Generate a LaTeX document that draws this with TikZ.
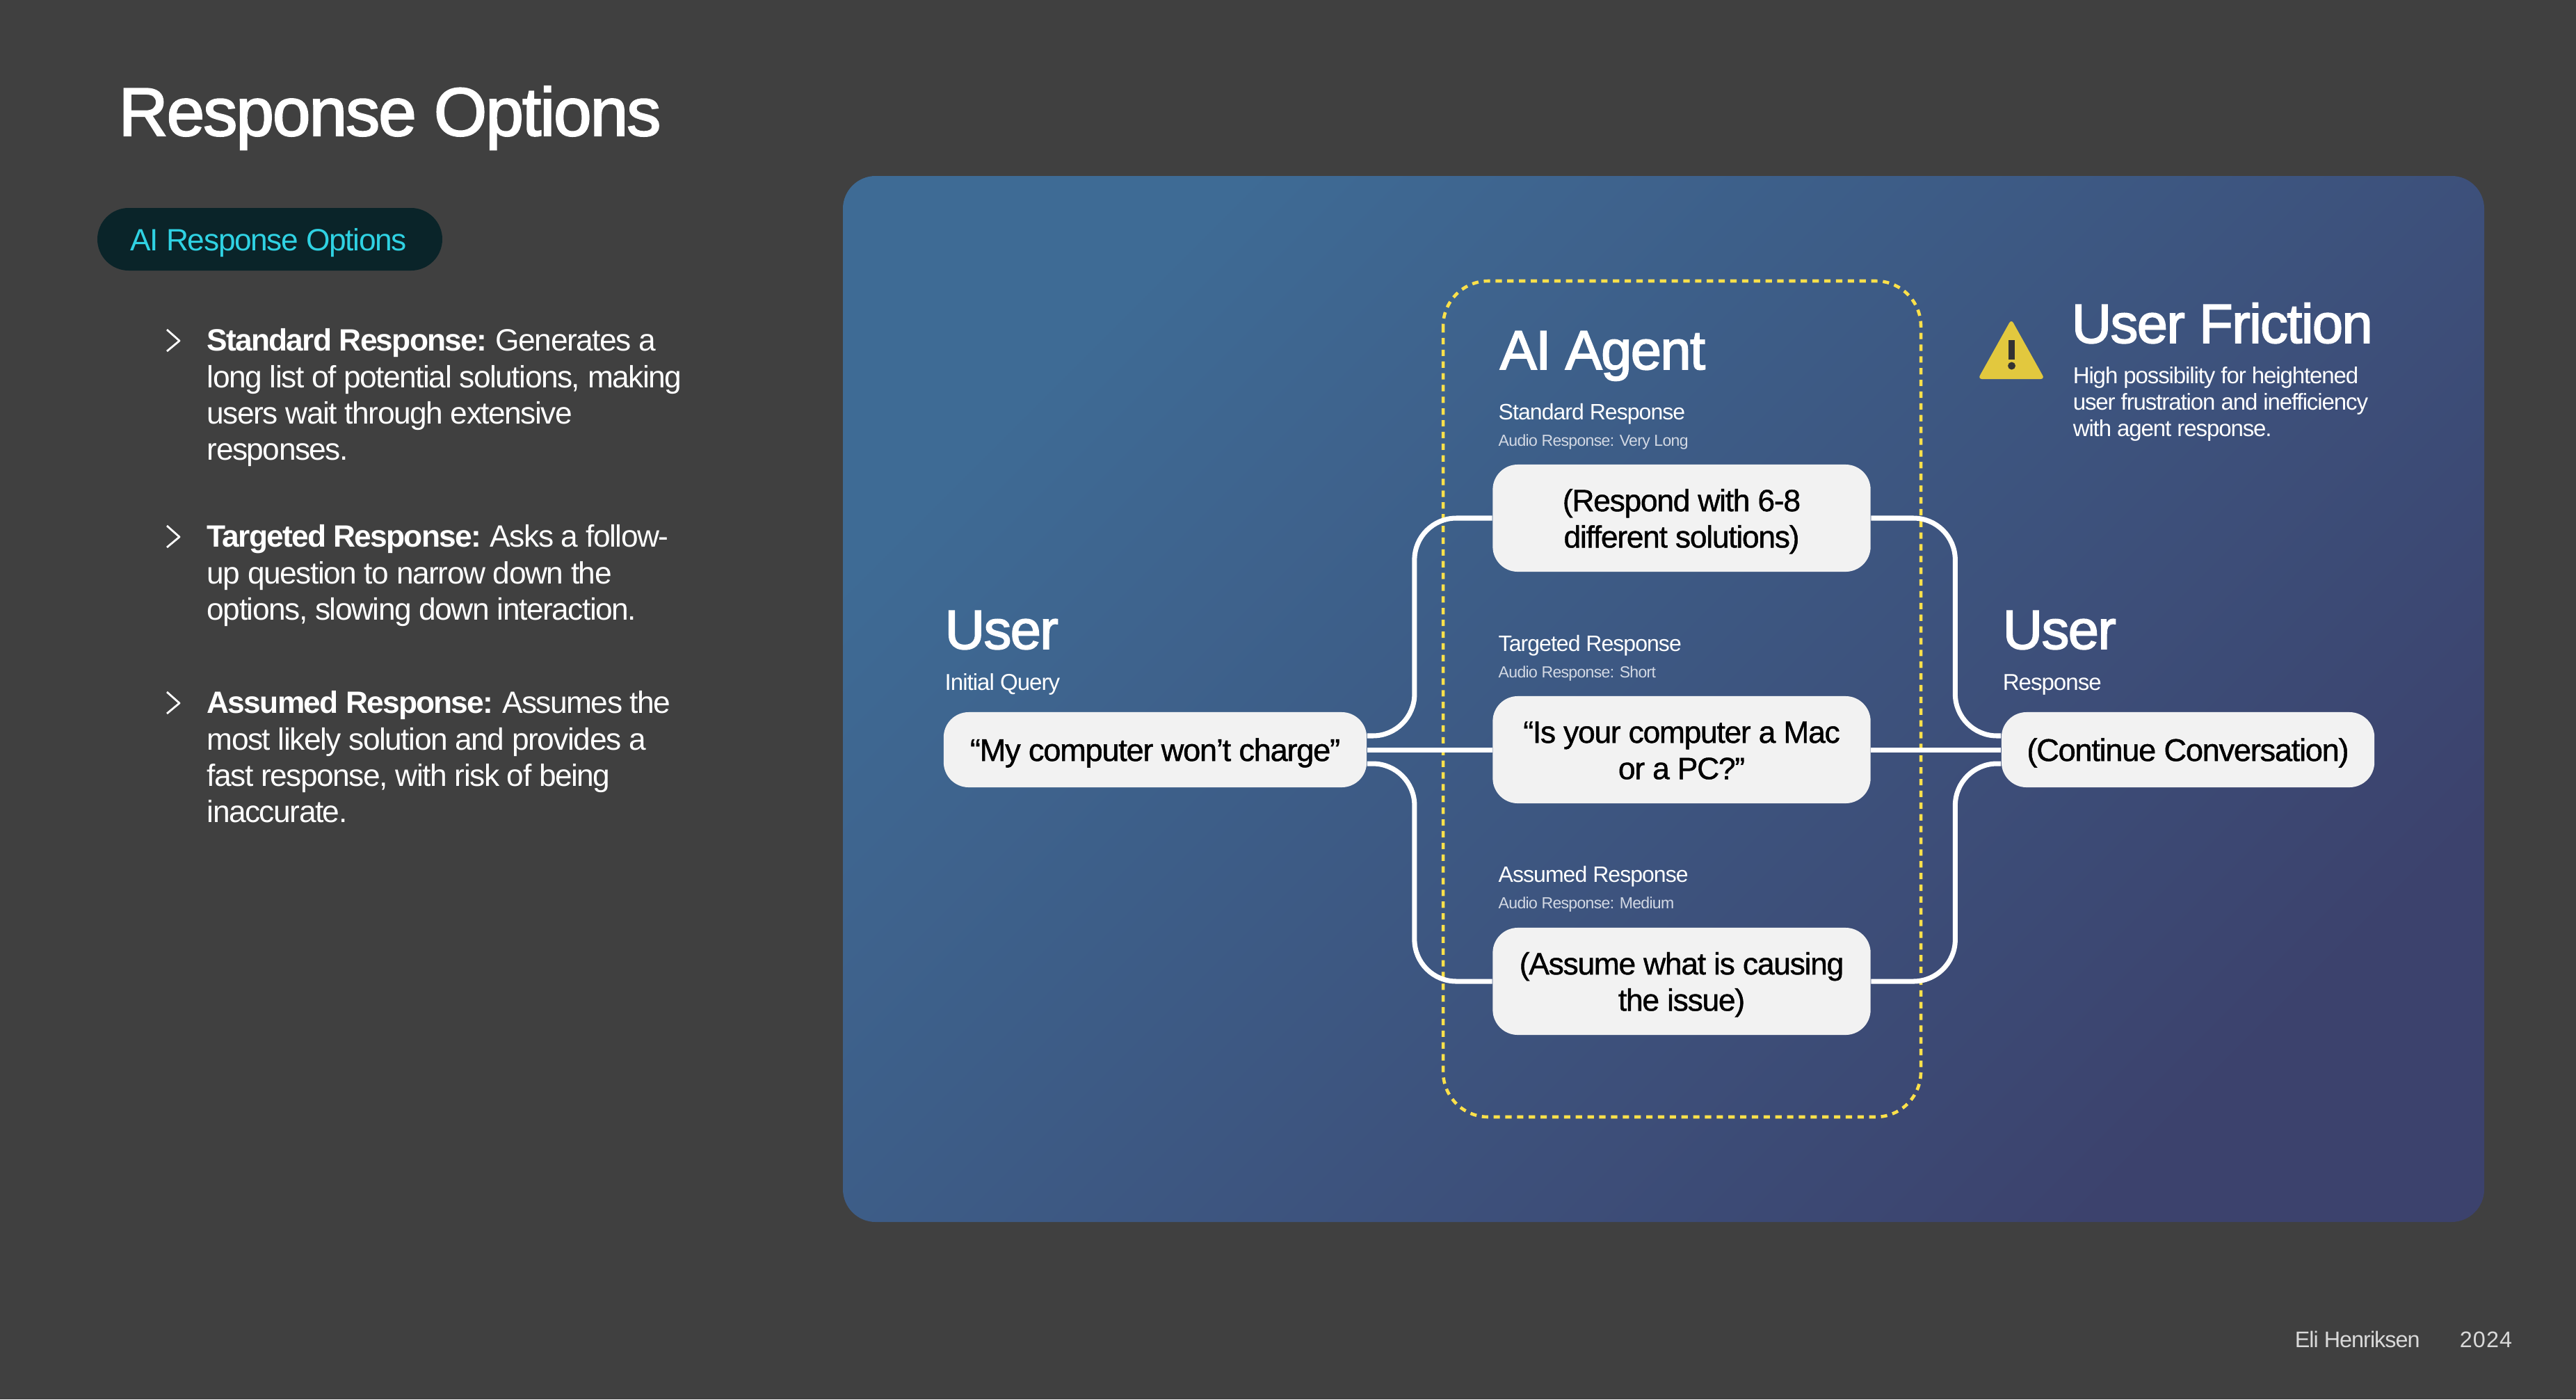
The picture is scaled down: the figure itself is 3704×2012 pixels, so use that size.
\documentclass[tikz,border=0pt]{standalone}
\usepackage{fontspec}
\setmainfont{Liberation Sans}[LetterSpace=-3]
\newfontfamily\mediumfont{Liberation Sans}[LetterSpace=-2.8,FakeBold=1.0]
\newfontfamily\headfont{Liberation Sans}[LetterSpace=-2,FakeBold=2.2]
\newfontfamily\parafont{Liberation Sans}[LetterSpace=-3.4,BoldFeatures={LetterSpace=-4}]
\usetikzlibrary{calc}
\definecolor{slategrey}{HTML}{404040}
\definecolor{panelstart}{HTML}{3E6B95}
\definecolor{panelmid}{HTML}{3E5580}
\definecolor{panelend}{HTML}{3C426D}
\definecolor{pilldark}{HTML}{0A2429}
\definecolor{pillcyan}{HTML}{2FD2E3}
\definecolor{agentyellow}{HTML}{FFE14A}
\definecolor{warnyellow}{HTML}{E2C83E}
\definecolor{boxwhite}{HTML}{F2F2F2}
\definecolor{footgrey}{HTML}{D9D9D9}
\definecolor{subgrey}{HTML}{D3D9E4}
\newcommand{\boxstrut}{\rule[-.19\baselineskip]{0pt}{\baselineskip}}
\tikzset{
 pagetext/.style={anchor=base west, inner sep=0, text=white},
 para/.style={anchor=north west, inner sep=0, text=white, align=left, font=\parafont\fontsize{12.6}{14.85}\selectfont},
 heading/.style={pagetext, font=\headfont\fontsize{22.6}{22.6}\selectfont},
 querylabel/.style={pagetext, font=\fontsize{9.4}{9.4}\selectfont},
 optionlabel/.style={pagetext, font=\fontsize{9.1}{9.1}\selectfont},
 audiolabel/.style={pagetext, text=subgrey, font=\fontsize{6.55}{6.55}\selectfont},
 bubble/.style={fill=boxwhite, rounded corners=.36cm, inner sep=0, align=center, text=black,
  font=\mediumfont\fontsize{12.6}{14.85}\selectfont},
 endbubble/.style={bubble, minimum height=1.08cm, font=\mediumfont\fontsize{12.85}{14.85}\selectfont},
 wire/.style={draw=white, line width=2pt, rounded corners=.6cm},
 chevron/.style={draw=white, line width=.8pt, line join=round},
}
\begin{document}
\begin{tikzpicture}[x=0.01cm,y=-0.01cm]
 %background:
 \fill[slategrey] (0,0) rectangle (3704,2012);
 \shade[top color=panelstart, middle color=panelmid, bottom color=panelend, shading angle=45, rounded corners=.47cm]
  (1212,253) rectangle (3572,1757);

 %left column:
 \node[pagetext, font=\headfont\fontsize{27.9}{27.9}\selectfont] (title) at (170,195) {Response Options};
 \fill[pilldark, rounded corners=.45cm] (140,299) rectangle (636,389);
 \node[pagetext, text=pillcyan, font=\fontsize{12.6}{12.6}\selectfont] (pill) at (187,360) {AI Response Options};

 \node[para] (standardtext) at (297,472) {\textbf{Standard Response:} Generates a\\long list of potential solutions, making\\users wait through extensive\\responses.};
 \node[para] (targetedtext) at (297,754) {\textbf{Targeted Response:} Asks a follow-\\up question to narrow down the\\options, slowing down interaction.};
 \node[para] (assumedtext) at (297,993) {\textbf{Assumed Response:} Assumes the\\most likely solution and provides a\\fast response, with risk of being\\inaccurate.};
 \draw[chevron] (240,474) -- (258,490) -- (240,505);
 \draw[chevron] (240,756) -- (258,772) -- (240,787);
 \draw[chevron] (240,995) -- (258,1011) -- (240,1026);

 %agent frame:
 \draw[agentyellow, line width=1.3pt, dash pattern=on 2.6pt off 2.2pt, rounded corners=.65cm] (2075,404) rectangle (2762,1606);

 %boxes:
 \node[endbubble, minimum width=6.08cm] (query) at (1661,1078) {“My computer won’t charge”\boxstrut};
 \node[endbubble, minimum width=5.36cm] (next) at (3146,1078) {(Continue Conversation)\boxstrut};
 \node[bubble, minimum width=5.43cm, minimum height=1.54cm] (standard) at (2418,745) {(Respond with 6-8\boxstrut\\different solutions)\boxstrut};
 \node[bubble, minimum width=5.43cm, minimum height=1.54cm] (targeted) at (2418,1078) {“Is your computer a Mac\boxstrut\\or a PC?”\boxstrut};
 \node[bubble, minimum width=5.43cm, minimum height=1.54cm] (assumed) at (2418,1411) {(Assume what is causing\boxstrut\\the issue)\boxstrut};

 %connectors:
 \draw[wire] ([yshift=.2cm]query.east) -- ++(68,0) |- (standard.west);
 \draw[wire] (query.east) -- (targeted.west);
 \draw[wire] ([yshift=-.2cm]query.east) -- ++(68,0) |- (assumed.west);
 \draw[wire] (standard.east) -- ++(121,0) |- ([yshift=.2cm]next.west);
 \draw[wire] (targeted.east) -- (next.west);
 \draw[wire] (assumed.east) -- ++(121,0) |- ([yshift=-.2cm]next.west);

 %labels:
 \node[heading] (userin) at (1358,933) {User};
 \node[querylabel] (userinsub) at (1358,992) {Initial Query};
 \node[heading] (userout) at (2879,933) {User};
 \node[querylabel] (useroutsub) at (2879,992) {Response};
 \node[heading] (agent) at (2156,531) {AI Agent};
 \node[optionlabel] (standardlabel) at (2154,603) {Standard Response};
 \node[audiolabel] (standardaudio) at (2154,641) {Audio Response: Very Long};
 \node[optionlabel] (targetedlabel) at (2154,936) {Targeted Response};
 \node[audiolabel] (targetedaudio) at (2154,974) {Audio Response: Short};
 \node[optionlabel] (assumedlabel) at (2154,1268) {Assumed Response};
 \node[audiolabel] (assumedaudio) at (2154,1306) {Audio Response: Medium};

 %friction note:
 \fill[warnyellow, rounded corners=.06cm] (2892,459) -- (2940,545) -- (2844,545) -- cycle;
 \fill[slategrey!80!black] (2888,489) rectangle (2897,517);
 \fill[slategrey!80!black] (2892.5,526) circle (.055cm);
 \node[heading] (friction) at (2978,493) {User Friction};
 \node[para, font=\parafont\fontsize{9.4}{10.8}\selectfont] (frictiontext) at (2980,527) {High possibility for heightened\\user frustration and inefficiency\\with agent response.};

 %footer:
 \node[pagetext, text=footgrey, font=\fontsize{9.2}{9.2}\selectfont] (author) at (3299,1937) {Eli Henriksen};
 \node[pagetext, text=footgrey, font=\fontsize{9.2}{9.2}\addfontfeature{LetterSpace=3.5}\selectfont] (year) at (3536,1937) {2024};
\end{tikzpicture}
\end{document}
